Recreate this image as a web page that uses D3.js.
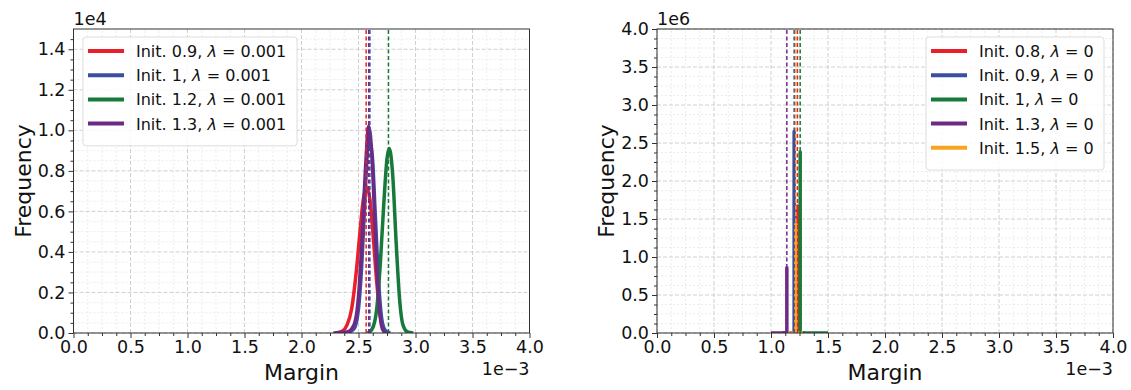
<!DOCTYPE html>
<html>
<head>
<meta charset="utf-8">
<script src="https://cdn.jsdelivr.net/npm/d3@7"></script>
<style>
  body { margin: 0; background: #fff; }
  svg text { font-family: "DejaVu Sans", sans-serif; fill: #111; }
</style>
</head>
<body>
<div class="chart"></div>
<script>
// x in 1e-3, y in 1e4 (left) / 1e6 (right)
var xTicks = [0, 0.5, 1, 1.5, 2, 2.5, 3, 3.5, 4],
    leftYTicks = [0, 0.2, 0.4, 0.6, 0.8, 1.0, 1.2, 1.4],
    rightYTicks = [0, 0.5, 1, 1.5, 2, 2.5, 3, 3.5, 4];

// left panel, lambda = 0.001
var leftNames = ["Init. 0.9", "Init. 1", "Init. 1.2", "Init. 1.3"];
var leftColors = ["#e8202a", "#3b4fa0", "#187a3a", "#6d2a85"];
var l_init09 = [[2.30,0],[2.36,0.01],[2.40,0.04],[2.44,0.12],[2.48,0.30],[2.51,0.48],[2.54,0.65],[2.57,0.72],[2.60,0.66],[2.63,0.47],[2.66,0.25],[2.69,0.09],[2.72,0.02],[2.76,0]];
var l_init1  = [[2.40,0],[2.46,0.02],[2.50,0.12],[2.53,0.35],[2.56,0.70],[2.59,0.96],[2.62,0.88],[2.65,0.55],[2.68,0.22],[2.71,0.05],[2.74,0.01],[2.78,0]];
var l_init12 = [[2.58,0],[2.62,0.02],[2.66,0.12],[2.69,0.33],[2.72,0.62],[2.75,0.86],[2.77,0.91],[2.80,0.78],[2.83,0.45],[2.86,0.17],[2.89,0.04],[2.93,0.005],[2.98,0]];
var l_init13 = [[2.28,0],[2.40,0.005],[2.46,0.04],[2.50,0.18],[2.53,0.45],[2.56,0.80],[2.59,1.02],[2.62,0.85],[2.65,0.45],[2.68,0.14],[2.71,0.02],[2.74,0]];
var leftMeans = [2.567, 2.600, 2.763, 2.590];

// right panel, lambda = 0
var rightNames = ["Init. 0.8", "Init. 0.9", "Init. 1", "Init. 1.3", "Init. 1.5"];
var rightColors = ["#e8202a", "#3b4fa0", "#187a3a", "#6d2a85", "#f7a51f"];
var r_init08 = [[1.15,0],[1.232,0],[1.232,1.67],[1.232,0],[1.30,0]];
var r_init09 = [[1.10,0],[1.203,0],[1.203,2.65],[1.203,0],[1.28,0]];
var r_init1  = [[1.20,0],[1.256,0],[1.256,2.38],[1.256,0],[1.50,0]];
var r_init13 = [[1.00,0],[1.139,0],[1.139,0.86],[1.139,0],[1.20,0]];
var r_init15 = [[1.15,0],[1.218,0],[1.218,1.43],[1.218,0],[1.28,0]];
var rightMeans = [1.232, 1.203, 1.256, 1.139, 1.218];

var svg = d3.select(".chart").append("svg")
  .attr("width", 1131).attr("height", 390);

function minorTicks(major, n) {
  var out = [];
  for (var i = 0; i < major.length - 1; i++) {
    var step = (major[i + 1] - major[i]) / n;
    for (var k = 1; k < n; k++) out.push(major[i] + k * step);
  }
  return out;
}

function panel(opts) {
  var x = d3.scaleLinear().domain([0, 4]).range([opts.left, opts.left + 456]);
  var y = d3.scaleLinear().domain([0, opts.ymax]).range([333, 29]);
  var g = svg.append("g");

  var xMinor = minorTicks(xTicks, 4),
      yMinor = minorTicks(opts.yTicks.concat(opts.ymax > 1.4 && opts.ymax < 2 ? [1.6] : []), 4)
        .filter(function(v) { return v < opts.ymax; });

  g.append("clipPath").attr("id", opts.id)
    .append("rect").attr("x", x(0)).attr("y", y(opts.ymax))
    .attr("width", x(4) - x(0)).attr("height", y(0) - y(opts.ymax));

  // grid
  g.selectAll(".gxm").data(xMinor).enter().append("line")
    .attr("x1", x).attr("x2", x).attr("y1", y(0)).attr("y2", y(opts.ymax))
    .attr("stroke", "#e4e4e4").attr("stroke-width", 0.7).attr("stroke-dasharray", "2,2");
  g.selectAll(".gym").data(yMinor).enter().append("line")
    .attr("y1", y).attr("y2", y).attr("x1", x(0)).attr("x2", x(4))
    .attr("stroke", "#e4e4e4").attr("stroke-width", 0.7).attr("stroke-dasharray", "2,2");
  g.selectAll(".gx").data(xTicks).enter().append("line")
    .attr("x1", x).attr("x2", x).attr("y1", y(0)).attr("y2", y(opts.ymax))
    .attr("stroke", "#c4c4c4").attr("stroke-width", 0.8).attr("stroke-dasharray", "4,2");
  g.selectAll(".gy").data(opts.yTicks).enter().append("line")
    .attr("y1", y).attr("y2", y).attr("x1", x(0)).attr("x2", x(4))
    .attr("stroke", "#c4c4c4").attr("stroke-width", 0.8).attr("stroke-dasharray", "4,2");

  // curves
  var plot = g.append("g").attr("clip-path", "url(#" + opts.id + ")");
  var line = d3.line().x(function(d) { return x(d[0]); }).y(function(d) { return y(d[1]); })
    .curve(opts.smooth ? d3.curveMonotoneX : d3.curveLinear);
  opts.series.forEach(function(s, i) {
    plot.append("path").datum(s)
      .attr("d", line).attr("fill", "none")
      .attr("stroke", opts.colors[i]).attr("stroke-width", opts.lw)
      .attr("stroke-linejoin", "round");
  });
  opts.means.forEach(function(m, i) {
    plot.append("line")
      .attr("x1", x(m)).attr("x2", x(m)).attr("y1", y(0)).attr("y2", y(opts.ymax))
      .attr("stroke", opts.colors[i]).attr("stroke-width", 1.5)
      .attr("stroke-dasharray", "4,2.5");
  });

  // spines
  g.append("rect").attr("x", x(0)).attr("y", y(opts.ymax))
    .attr("width", x(4) - x(0)).attr("height", y(0) - y(opts.ymax))
    .attr("fill", "none").attr("stroke", "#333").attr("stroke-width", 1);

  // axes
  g.append("g").attr("transform", "translate(0,333)")
    .call(d3.axisBottom(x).tickValues(xTicks).tickFormat(d3.format(".1f")).tickSize(5).tickPadding(3));
  g.append("g").attr("transform", "translate(0,333)")
    .call(d3.axisBottom(x).tickValues(xMinor).tickFormat("").tickSize(3));
  g.append("g").attr("transform", "translate(" + x(0) + ",0)")
    .call(d3.axisLeft(y).tickValues(opts.yTicks).tickFormat(d3.format(".1f")).tickSize(5).tickPadding(3));
  g.append("g").attr("transform", "translate(" + x(0) + ",0)")
    .call(d3.axisLeft(y).tickValues(yMinor).tickFormat("").tickSize(3));
  g.selectAll(".domain").remove();
  g.selectAll(".tick line").attr("stroke", "#333");
  g.selectAll(".tick text").attr("font-size", 17.5).attr("fill", "#111")
    .style("font-family", "DejaVu Sans");

  // labels
  g.append("text").attr("x", x(2)).attr("y", 380).attr("text-anchor", "middle")
    .attr("font-size", 22).text("Margin");
  g.append("text").attr("x", x(4)).attr("y", 375).attr("text-anchor", "end")
    .attr("font-size", 17.5).text("1e\u22123");
  g.append("text").attr("x", x(0)).attr("y", 25).attr("text-anchor", "start")
    .attr("font-size", 17.5).text(opts.offset);
  g.append("text").attr("transform", "translate(" + (x(0) - 43) + "," + 181 + ") rotate(-90)")
    .attr("text-anchor", "middle").attr("font-size", 22).text("Frequency");

  // legend
  var lg = g.append("g").attr("transform", "translate(" + opts.legX + ",37)");
  lg.append("rect").attr("width", opts.legW).attr("height", 12 + opts.names.length * 24.2)
    .attr("rx", 3).attr("fill", "#fff").attr("fill-opacity", 0.85)
    .attr("stroke", "#ddd").attr("stroke-width", 1);
  opts.names.forEach(function(n, i) {
    var yy = 14 + i * 24.2;
    lg.append("line").attr("x1", 5).attr("x2", 41).attr("y1", yy).attr("y2", yy)
      .attr("stroke", opts.colors[i]).attr("stroke-width", 4);
    var t = lg.append("text").attr("x", 53).attr("y", yy + 6).attr("font-size", 16);
    t.append("tspan").text(n + ", ");
    t.append("tspan").attr("font-style", "italic").text("\u03bb");
    t.append("tspan").text(" = " + opts.lam);
  });
}

panel({
  id: "clipL", left: 73.5, ymax: 1.5, yTicks: leftYTicks, offset: "1e4", lw: 3.5,
  series: [l_init09, l_init1, l_init12, l_init13], colors: leftColors, means: leftMeans,
  names: leftNames, lam: "0.001", legX: 83, legW: 214, smooth: true
});
panel({
  id: "clipR", left: 657, ymax: 4, yTicks: rightYTicks, offset: "1e6", lw: 3.5,
  series: [r_init08, r_init09, r_init1, r_init13, r_init15], colors: rightColors, means: rightMeans,
  names: rightNames, lam: "0", legX: 926, legW: 178, smooth: false
});
</script>
</body>
</html>
